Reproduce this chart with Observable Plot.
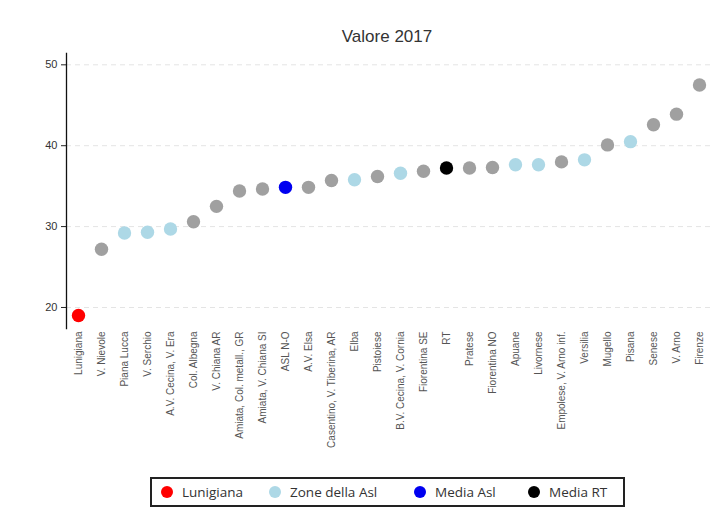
<!DOCTYPE html>
<html>
<head>
<meta charset="utf-8">
<script src="https://cdn.jsdelivr.net/npm/d3@7"></script>
<script src="https://cdn.jsdelivr.net/npm/@observablehq/plot@0.6"></script>
<style>
  html, body { margin: 0; padding: 0; background: #fff; }
  #wrap { position: relative; width: 717px; height: 526px; font-family: "Liberation Sans", Arial, sans-serif; }
  #title { height: 48px; position: relative; }
  #title span { position: absolute; left: 0; width: 774px; text-align: center; top: 27px; font-size: 17px; color: #333; }
  #legend { position: absolute; left: 150px; top: 477px; width: 471px; height: 26px; border: 2px solid #222; font-family: "Open Sans", sans-serif; font-size: 13.5px; color: #333; }
  .it { position: absolute; top: 0; height: 26px; display: flex; align-items: center; }
  .dot { width: 12px; height: 12px; border-radius: 50%; margin-right: 9px; }
</style>
</head>
<body>
<div id="wrap">
  <div id="title"><span>Valore 2017</span></div>
  <div id="chart"></div>
  <div id="legend"></div>
</div>
<script>
const zones = ["Lunigiana", "V. Nievole", "Piana Lucca", "V. Serchio", "A.V. Cecina, V. Era", "Col. Albegna", "V. Chiana AR", "Amiata, Col. metall., GR", "Amiata, V. Chiana SI", "ASL N-O", "A.V. Elsa", "Casentino, V. Tiberina, AR", "Elba", "Pistoiese", "B.V. Cecina, V. Cornia", "Fiorentina SE", "RT", "Pratese", "Fiorentina NO", "Apuane", "Livornese", "Empolese, V. Arno inf.", "Versilia", "Mugello", "Pisana", "Senese", "V. Arno", "Firenze"];
const values = [19.0, 27.2, 29.2, 29.3, 29.7, 30.6, 32.5, 34.4, 34.65, 34.85, 34.85, 35.7, 35.8, 36.2, 36.6, 36.85, 37.25, 37.25, 37.3, 37.65, 37.65, 38.0, 38.25, 40.1, 40.5, 42.6, 43.9, 47.5];
const groups = ["Lunigiana", "Altre", "Zone della Asl", "Zone della Asl", "Zone della Asl", "Altre", "Altre", "Altre", "Altre", "Media Asl", "Altre", "Altre", "Zone della Asl", "Altre", "Zone della Asl", "Altre", "Media RT", "Altre", "Altre", "Zone della Asl", "Zone della Asl", "Altre", "Zone della Asl", "Altre", "Zone della Asl", "Altre", "Altre", "Altre"];
const groupNames = ["Lunigiana", "Zone della Asl", "Media Asl", "Media RT", "Altre"];
const groupColors = ["#ff0000", "#add8e6", "#0000f0", "#000000", "#a0a0a0"];
const yTicks = [20, 30, 40, 50];

const data = zones.map((z, i) => ({zone: z, value: values[i], group: groups[i]}));

const plot = Plot.plot({
  width: 717,
  height: 422,
  marginTop: 5,
  marginBottom: 142,
  marginLeft: 66,
  marginRight: 7,
  style: {fontFamily: "Liberation Sans, Arial, sans-serif", color: "#333", background: "#fff"},
  x: {type: "point", domain: zones, padding: 0.5, label: null},
  y: {domain: [17.4, 51.4], label: null},
  color: {domain: groupNames, range: groupColors},
  marks: [
    Plot.gridY(yTicks, {stroke: "#e4e4e4", strokeOpacity: 1, strokeDasharray: "5,4"}),
    Plot.axisY(yTicks, {tickSize: 5, tickPadding: 4, fontSize: 11, stroke: "#222", fill: "#333", label: null}),
    Plot.axisX({tickSize: 0, tickPadding: 3, tickRotate: -90, fontSize: 10, fill: "#555", label: null}),
    Plot.frame({anchor: "left", stroke: "#111", strokeWidth: 1.3}),
    Plot.dot(data, {x: "zone", y: "value", fill: "group", r: 6.7})
  ]
});
document.getElementById("chart").appendChild(plot);

const legendItems = [
  {name: "Lunigiana", left: 9},
  {name: "Zone della Asl", left: 117},
  {name: "Media Asl", left: 262},
  {name: "Media RT", left: 376}
];
const leg = document.getElementById("legend");
legendItems.forEach(it => {
  const d = document.createElement("div");
  d.className = "it";
  d.style.left = it.left + "px";
  const c = document.createElement("div");
  c.className = "dot";
  c.style.background = groupColors[groupNames.indexOf(it.name)];
  d.appendChild(c);
  const t = document.createElement("span");
  t.textContent = it.name;
  d.appendChild(t);
  leg.appendChild(d);
});
</script>
</body>
</html>
